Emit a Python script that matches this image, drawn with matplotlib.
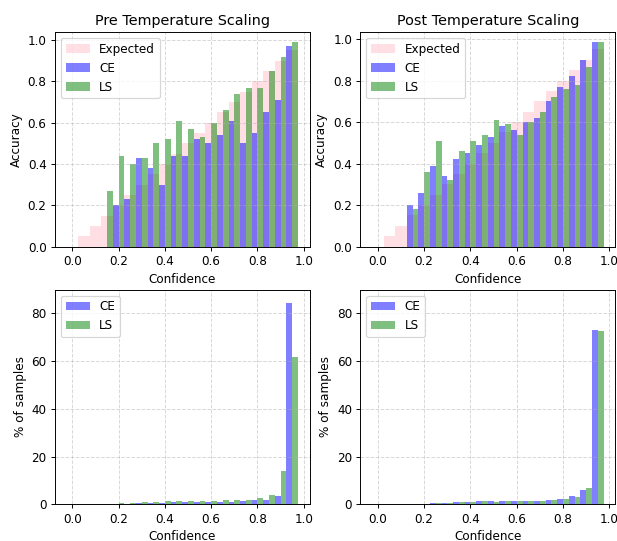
import matplotlib
matplotlib.use('Agg')
import matplotlib.pyplot as plt
import numpy as np

# bin positions (0.00 ... 0.95)
bins = np.arange(20) * 0.05
expected = bins.copy()

# accuracy per bin
pre_acc_ce = [0, 0, 0, 0, 0.20, 0.23, 0.43, 0.38, 0.30, 0.44, 0.44, 0.52, 0.50, 0.54,
              0.61, 0.50, 0.55, 0.65, 0.71, 0.97]
pre_acc_ls = [0, 0, 0, 0.27, 0.44, 0.40, 0.43, 0.50, 0.52, 0.61, 0.57, 0.53, 0.60, 0.66,
              0.74, 0.77, 0.77, 0.85, 0.92, 0.99]
post_acc_ce = [0, 0, 0, 0.20, 0.26, 0.39, 0.34, 0.42, 0.45, 0.49, 0.53, 0.58, 0.56, 0.60,
               0.62, 0.70, 0.77, 0.82, 0.90, 0.985]
post_acc_ls = [0, 0, 0, 0.18, 0.36, 0.51, 0.32, 0.46, 0.51, 0.54, 0.61, 0.59, 0.54, 0.60,
               0.65, 0.72, 0.76, 0.78, 0.865, 0.985]

# % of samples per bin
pre_pct_ce = [0, 0, 0, 0.05, 0.1, 0.2, 0.4, 0.6, 0.6, 1.0, 1.0, 1.0, 1.0, 1.0,
              1.0, 1.4, 1.8, 1.8, 3.5, 84.2]
pre_pct_ls = [0, 0, 0, 0.1, 0.5, 0.6, 1.0, 1.0, 1.4, 1.4, 1.4, 1.4, 1.4, 1.8,
              1.8, 1.8, 2.7, 3.9, 14.0, 61.9]
post_pct_ce = [0, 0, 0, 0.05, 0.1, 0.6, 0.6, 1.0, 1.0, 1.4, 1.4, 1.4, 1.4, 1.4,
               1.4, 1.8, 2.2, 3.5, 6.0, 73.2]
post_pct_ls = [0, 0, 0, 0.05, 0.1, 0.6, 0.6, 1.0, 1.0, 1.4, 1.0, 1.4, 1.4, 1.4,
               1.4, 1.8, 2.2, 3.1, 6.9, 72.8]

titles = ['Pre Temperature Scaling', 'Post Temperature Scaling']

DPI = 86
fig, axes = plt.subplots(2, 2, figsize=(617 / DPI, 541 / DPI), dpi=DPI)
fig.subplots_adjust(left=0.089, right=0.997, top=0.941, bottom=0.068,
                    wspace=0.2, hspace=0.2)

w = 0.025
acc = [(pre_acc_ce, pre_acc_ls), (post_acc_ce, post_acc_ls)]
pct = [(pre_pct_ce, pre_pct_ls), (post_pct_ce, post_pct_ls)]

for j in range(2):
    ax = axes[0, j]
    ax.bar(bins, expected, width=0.05, color='pink', alpha=0.5, label='Expected')
    ax.bar(bins - w / 2, acc[j][0], width=w, color='blue', alpha=0.5, label='CE')
    ax.bar(bins + w / 2, acc[j][1], width=w, color='green', alpha=0.5, label='LS')
    ax.set_title(titles[j], fontsize=12)
    ax.set_xlabel('Confidence')
    ax.set_ylabel('Accuracy')
    ax.set_xticks(np.arange(0, 1.01, 0.2))
    ax.grid(True, linestyle='--', alpha=0.5)
    ax.legend(loc='upper left')

    ax = axes[1, j]
    ax.bar(bins - w / 2, pct[j][0], width=w, color='blue', alpha=0.5, label='CE')
    ax.bar(bins + w / 2, pct[j][1], width=w, color='green', alpha=0.5, label='LS')
    ax.set_xlabel('Confidence')
    ax.set_ylabel('% of samples')
    ax.set_xticks(np.arange(0, 1.01, 0.2))
    ax.set_yticks([0, 20, 40, 60, 80])
    ax.set_ylim(0, 90)
    ax.grid(True, linestyle='--', alpha=0.5)
    ax.legend(loc='upper left')

fig.savefig('out.png', dpi=DPI)
